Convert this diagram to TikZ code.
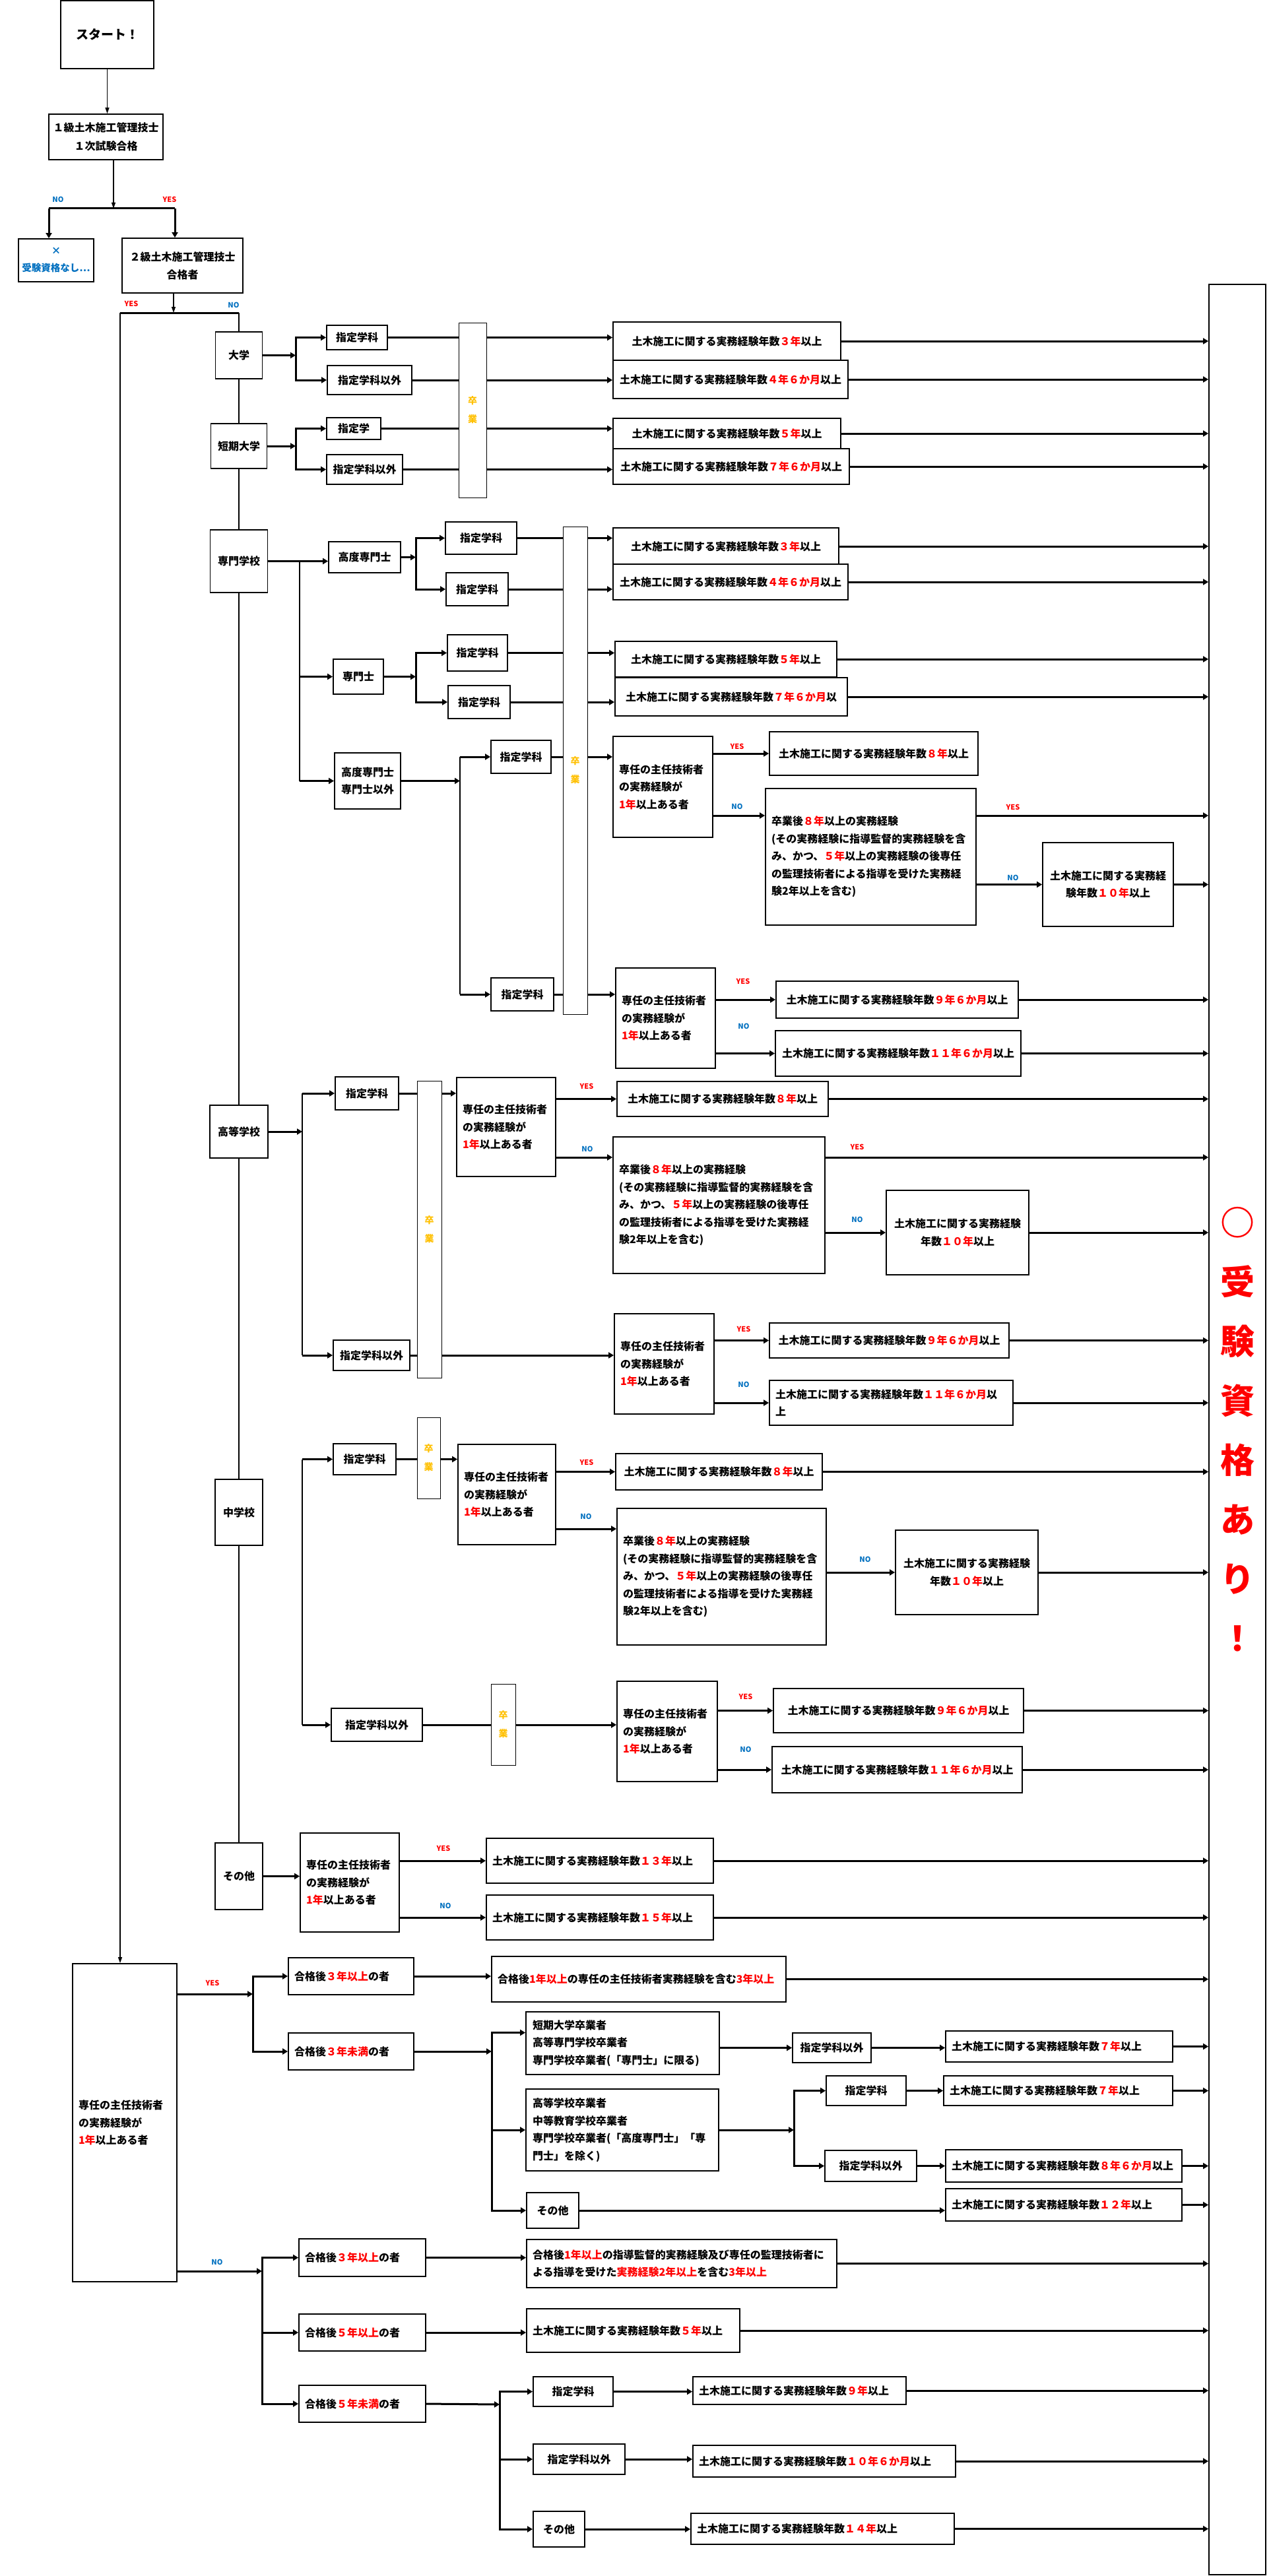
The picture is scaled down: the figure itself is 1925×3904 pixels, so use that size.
\documentclass[tikz,border=0pt]{standalone}
\usepackage{fontspec}
\setmainfont{Noto Sans CJK JP}
\usetikzlibrary{arrows.meta}

\definecolor{nocol}{RGB}{0,112,192}
\definecolor{gradcol}{RGB}{255,192,0}
\newcommand{\rd}[1]{\textcolor{red}{#1}}
\newcommand{\jt}{\bfseries\fontsize{16}{26.5}\selectfont}
\newcommand{\dk}{土木施工に関する実務経験年数}
\newcommand{\snbody}{専任の主任技術者\\の実務経験が\\\rd{1年}以上ある者}
\newcommand{\sotsu}{卒業後\rd{８年}以上の実務経験\\(その実務経験に指導監督的実務経験を含\\み、かつ、\rd{５年}以上の実務経験の後専任\\の監理技術者による指導を受けた実務経\\験2年以上を含む)}

\tikzset{
  box/.style={draw,line width=1.8pt,fill=white,inner sep=0pt,align=center,font=\jt},
  lbox/.style={box,align=left,inner xsep=9pt},
  gradbar/.style={draw,line width=1pt,fill=white,inner sep=0pt,align=center,text=gradcol,font=\bfseries\fontsize{14}{28}\selectfont},
  conn/.style={line width=3pt,-{Triangle[length=8pt,width=9pt]}},
  seg/.style={line width=3pt},
  vline/.style={line width=1.2pt},
  vlinearr/.style={line width=1.2pt,-{Triangle[length=9pt,width=6pt]}},
  yeslbl/.style={text=red,font=\bfseries\fontsize{11}{13}\selectfont},
  nolbl/.style={text=nocol,font=\bfseries\fontsize{11}{13}\selectfont}
}

\begin{document}
\begin{tikzpicture}[x=1pt,y=-1pt]
\path[use as bounding box,fill=white] (0,0) rectangle (1925,3904);

% top of the chart
\node[box,minimum width=141pt,minimum height=103pt,font=\bfseries\fontsize{19}{23}\selectfont] (start) at (162.5,52.5) {スタート！};
\node[box,minimum width=173pt,minimum height=69pt,font=\bfseries\fontsize{16}{28}\selectfont] (first) at (160.5,207.5) {１級土木施工管理技士\\１次試験合格};
\node[box,minimum width=114pt,minimum height=65pt,text=nocol,font=\bfseries\fontsize{14.5}{26}\selectfont] (fail) at (85,394.5) {×\\受験資格なし…};
\node[box,minimum width=183pt,minimum height=83pt,font=\bfseries\fontsize{16}{27}\selectfont] (second) at (276.5,402.5) {２級土木施工管理技士\\合格者};
\node[draw,line width=1.8pt,minimum width=86pt,minimum height=3471pt,inner sep=0pt,align=center,text=red,font=\bfseries\fontsize{52}{90}\selectfont] (goal) at (1875,2166.5) {○\\受\\験\\資\\格\\あ\\り\\！};

\coordinate (b1) at (172,316);
\coordinate (b1l) at (74,316);
\coordinate (b1r) at (265,316);
\coordinate (b2) at (263,474);
\coordinate (b2l) at (182,474);
\coordinate (b2r) at (362,474);
\node[nolbl] (lno0) at (88,302) {NO};
\node[yeslbl] (lyes0) at (257,302) {YES};
\node[yeslbl] (lyes1) at (199,460) {YES};
\node[nolbl] (lno1) at (354,462) {NO};

% school column
\node[box,minimum width=71pt,minimum height=71pt] (daigaku) at (362,538.5) {大学};
\node[box,minimum width=85pt,minimum height=68pt] (tanki) at (362,676) {短期大学};
\node[box,minimum width=87pt,minimum height=95pt] (senmon) at (362,850.5) {専門学校};
\node[box,minimum width=88pt,minimum height=80pt] (koutou) at (362,1715) {高等学校};
\node[box,minimum width=72pt,minimum height=100pt] (chuu) at (362,2292) {中学校};
\node[box,minimum width=72pt,minimum height=101pt] (sonota) at (362,2843.5) {その他};

% daigaku / tanki
\node[box,minimum width=92pt,minimum height=37pt] (dk1) at (541,511.5) {指定学科};
\node[box,minimum width=128pt,minimum height=44pt] (dk2) at (560,576) {指定学科以外};
\node[box,minimum width=82pt,minimum height=33pt] (tk1) at (536,649.5) {指定学};
\node[box,minimum width=115pt,minimum height=45pt] (tk2) at (552.5,711.5) {指定学科以外};
\node[gradbar,minimum width=42pt,minimum height=265pt] (grad1) at (716,621.5) {卒\\業};
\node[box,minimum width=345pt,minimum height=58pt] (r1) at (1101.5,517) {\dk\rd{３年}以上};
\node[box,minimum width=356pt,minimum height=58pt] (r2) at (1107,575) {\dk\rd{４年６か月}以上};
\node[box,minimum width=345pt,minimum height=46pt] (r3) at (1101.5,657) {\dk\rd{５年}以上};
\node[box,minimum width=358pt,minimum height=54pt] (r4) at (1108,707) {\dk\rd{７年６か月}以上};
\coordinate (dbr) at (448,538.5);
\coordinate (tbr) at (448,676);

% senmon gakkou
\node[box,minimum width=109pt,minimum height=47pt] (kd) at (552.5,844.5) {高度専門士};
\node[box,minimum width=76pt,minimum height=53pt] (sm) at (543,1025.5) {専門士};
\node[box,minimum width=100pt,minimum height=85pt] (kg) at (557,1183.5) {高度専門士\\専門士以外};
\node[box,minimum width=108pt,minimum height=49pt] (sk1) at (729,815.5) {指定学科};
\node[box,minimum width=94pt,minimum height=50pt] (sk2) at (723,893) {指定学科};
\node[box,minimum width=91pt,minimum height=55pt] (sk3) at (723.5,989.5) {指定学科};
\node[box,minimum width=94pt,minimum height=50pt] (sk4) at (726,1064) {指定学科};
\node[box,minimum width=91pt,minimum height=50pt] (sk5) at (789.5,1147) {指定学科};
\node[box,minimum width=95pt,minimum height=50pt] (sk6) at (791.5,1507) {指定学科};
\node[gradbar,minimum width=37pt,minimum height=739pt] (grad2) at (871.5,1167.5) {卒\\業};
\node[box,minimum width=342pt,minimum height=56pt] (r5) at (1100,828) {\dk\rd{３年}以上};
\node[box,minimum width=356pt,minimum height=54pt] (r6) at (1107,882) {\dk\rd{４年６か月}以上};
\node[box,minimum width=336pt,minimum height=54pt] (r7) at (1100,999) {\dk\rd{５年}以上};
\node[box,minimum width=352pt,minimum height=58pt] (r8) at (1108,1056) {\dk\rd{７年６か月}以};
\node[lbox,text width=133pt,minimum height=153pt] (sn1) at (1004.5,1192.5) {\snbody};
\node[box,minimum width=316pt,minimum height=66pt] (r9) at (1324,1142) {\dk\rd{８年}以上};
\node[lbox,text width=301pt,minimum height=207pt] (lg1) at (1319.5,1298.5) {\sotsu};
\node[box,minimum width=198pt,minimum height=127pt] (r10) at (1679,1340.5) {土木施工に関する実務経\\験年数\rd{１０年}以上};
\node[lbox,text width=133pt,minimum height=152pt] (sn2) at (1008.5,1543) {\snbody};
\node[box,minimum width=367pt,minimum height=56pt] (r11) at (1359.5,1515) {\dk\rd{９年６か月}以上};
\node[box,minimum width=372pt,minimum height=69pt] (r12) at (1361,1596.5) {\dk\rd{１１年６か月}以上};
\coordinate (sbr) at (454,850.5);
\coordinate (kbr) at (630,844.5);
\coordinate (mbr) at (630,1025.5);
\coordinate (gbr) at (697,1183.5);
\coordinate (y1) at (0,1236);
\node[yeslbl] (lyes2) at (1117,1131) {YES};
\node[nolbl] (lno2) at (1117,1222) {NO};
\node[yeslbl] (lyes3) at (1535,1223) {YES};
\node[nolbl] (lno3) at (1535,1330) {NO};
\node[yeslbl] (lyes4) at (1126,1487) {YES};
\node[nolbl] (lno4) at (1127,1555) {NO};

% koutou gakkou
\node[box,minimum width=96pt,minimum height=50pt] (kk1) at (556,1657) {指定学科};
\node[box,minimum width=116pt,minimum height=46pt] (kk2) at (563,2054) {指定学科以外};
\node[gradbar,minimum width=37pt,minimum height=450pt] (grad3) at (650.5,1863) {卒\\業};
\node[lbox,text width=132pt,minimum height=150pt] (sn3) at (767,1708) {\snbody};
\node[box,minimum width=320pt,minimum height=53pt] (r13) at (1095,1665.5) {\dk\rd{８年}以上};
\node[lbox,text width=303pt,minimum height=207pt] (lg2) at (1089.5,1826.5) {\sotsu};
\node[box,minimum width=216pt,minimum height=128pt] (r14) at (1451,1868) {土木施工に関する実務経験\\年数\rd{１０年}以上};
\node[lbox,text width=133pt,minimum height=152pt] (sn4) at (1006.5,2067) {\snbody};
\node[box,minimum width=363pt,minimum height=53pt] (r15) at (1347.5,2031.5) {\dk\rd{９年６か月}以上};
\node[lbox,text width=351pt,minimum height=68pt] (r16) at (1350.5,2126) {\dk\rd{１１年６か月}以\\上};
\coordinate (kobr) at (458,1715);
\coordinate (y2) at (0,1754);
\node[yeslbl] (lyes5) at (889,1646) {YES};
\node[nolbl] (lno5) at (890,1741) {NO};
\node[yeslbl] (lyes6) at (1299,1738) {YES};
\node[nolbl] (lno6) at (1299,1848) {NO};
\node[yeslbl] (lyes7) at (1127,2014) {YES};
\node[nolbl] (lno7) at (1127,2098) {NO};

% chuugakkou
\node[box,minimum width=95pt,minimum height=47pt] (ck1) at (552.5,2211.5) {指定学科};
\node[gradbar,minimum width=35pt,minimum height=123pt] (grad4) at (649.5,2209.5) {卒\\業};
\node[lbox,text width=130pt,minimum height=152pt] (sn5) at (768,2265) {\snbody};
\node[box,minimum width=313pt,minimum height=55pt] (r17) at (1089.5,2230.5) {\dk\rd{８年}以上};
\node[lbox,text width=299pt,minimum height=207pt] (lg3) at (1093.5,2389.5) {\sotsu};
\node[box,minimum width=216pt,minimum height=128pt] (r18) at (1465,2383) {土木施工に関する実務経験\\年数\rd{１０年}以上};
\node[box,minimum width=138pt,minimum height=50pt] (ck2) at (571,2614) {指定学科以外};
\node[gradbar,minimum width=37pt,minimum height=123pt] (grad5) at (762.5,2613.5) {卒\\業};
\node[lbox,text width=134pt,minimum height=152pt] (sn6) at (1011,2624) {\snbody};
\node[box,minimum width=379pt,minimum height=67pt] (r19) at (1361.5,2592.5) {\dk\rd{９年６か月}以上};
\node[box,minimum width=379pt,minimum height=70pt] (r20) at (1359.5,2682) {\dk\rd{１１年６か月}以上};
\coordinate (cbr) at (458,2412);
\coordinate (y3) at (0,2317);
\node[yeslbl] (lyes8) at (889,2216) {YES};
\node[nolbl] (lno8) at (888,2298) {NO};
\node[nolbl] (lno9) at (1311,2363) {NO};
\node[yeslbl] (lyes9) at (1130,2571) {YES};
\node[nolbl] (lno10) at (1130,2651) {NO};

% sonota
\node[lbox,text width=132pt,minimum height=150pt] (sn7) at (530,2853) {\snbody};
\node[lbox,text width=326pt,minimum height=68pt] (r21) at (909,2820) {\dk\rd{１３年}以上};
\node[lbox,text width=326pt,minimum height=68pt] (r22) at (909,2906) {\dk\rd{１５年}以上};
\node[yeslbl] (lyes10) at (672,2801) {YES};
\node[nolbl] (lno11) at (675,2888) {NO};

% 2-kyuu goukakusha
\node[lbox,text width=140pt,minimum height=482pt] (snA) at (189,3217) {\snbody};
\node[lbox,text width=172pt,minimum height=56pt] (p1) at (532,2995) {合格後\rd{３年以上}の者};
\node[lbox,text width=428pt,minimum height=69pt] (q1) at (968,2999.5) {合格後\rd{1年以上}の専任の主任技術者実務経験を含む\rd{3年以上}};
\node[lbox,text width=172pt,minimum height=56pt] (p2) at (532,3109) {合格後\rd{３年未満}の者};
\node[lbox,text width=273pt,minimum height=95pt,inner xsep=10pt] (e1) at (943.5,3096.5) {短期大学卒業者\\高等専門学校卒業者\\専門学校卒業者(「専門士」に限る)};
\node[lbox,text width=272pt,minimum height=124pt,inner xsep=10pt] (e2) at (943,3228) {高等学校卒業者\\中等教育学校卒業者\\専門学校卒業者(「高度専門士」「専\\門士」を除く)};
\node[box,minimum width=79pt,minimum height=54pt] (e3) at (837.5,3350) {その他};
\node[box,minimum width=119pt,minimum height=45pt] (f1) at (1260.5,3103.5) {指定学科以外};
\node[box,minimum width=121pt,minimum height=45pt] (f2) at (1312.5,3168.5) {指定学科};
\node[box,minimum width=139pt,minimum height=47pt] (f3) at (1319.5,3282.5) {指定学科以外};
\node[lbox,text width=326pt,minimum height=47pt] (g1) at (1605,3101.5) {\dk\rd{７年}以上};
\node[lbox,text width=329pt,minimum height=45pt] (g2) at (1603.5,3168.5) {\dk\rd{７年}以上};
\node[lbox,text width=340pt,minimum height=49pt] (g3) at (1612,3282.5) {\dk\rd{８年６か月}以上};
\node[lbox,text width=340pt,minimum height=49pt] (g4) at (1612,3341.5) {\dk\rd{１２年}以上};
\node[lbox,text width=174pt,minimum height=57pt] (h1) at (549,3421.5) {合格後\rd{３年以上}の者};
\node[lbox,text width=452pt,minimum height=73pt] (i1) at (1033,3430.5) {合格後\rd{1年以上}の指導監督的実務経験及び専任の監理技術者に\\よる指導を受けた\rd{実務経験2年以上}を含む\rd{3年以上}};
\node[lbox,text width=174pt,minimum height=56pt] (h2) at (549,3535) {合格後\rd{５年以上}の者};
\node[lbox,text width=305pt,minimum height=66pt] (j1) at (959.5,3532) {\dk\rd{５年}以上};
\node[lbox,text width=174pt,minimum height=56pt] (h3) at (549,3643) {合格後\rd{５年未満}の者};
\node[box,minimum width=121pt,minimum height=45pt] (k1) at (868.5,3624.5) {指定学科};
\node[box,minimum width=139pt,minimum height=46pt] (k2) at (877.5,3727) {指定学科以外};
\node[box,minimum width=78pt,minimum height=54pt] (k3) at (847,3833) {その他};
\node[lbox,text width=305pt,minimum height=42pt] (m1) at (1211.5,3623) {\dk\rd{９年}以上};
\node[lbox,text width=380pt,minimum height=48pt] (m2) at (1249,3730) {\dk\rd{１０年６か月}以上};
\node[lbox,text width=381pt,minimum height=47pt] (m3) at (1246.5,3832.5) {\dk\rd{１４年}以上};
\coordinate (ay) at (383,3022);
\coordinate (an) at (397,3442);
\coordinate (pbr) at (745,3109);
\coordinate (ebr) at (1203,3228);
\coordinate (hbr) at (757,3644);
\node[yeslbl] (lyes11) at (322,3005) {YES};
\node[nolbl] (lno12) at (329,3428) {NO};

% connectors: top
\draw[vlinearr] (start.south) -- (start.south |- first.north);
\draw[vlinearr] (first.south -| b1) -- (b1);
\draw[seg] (b1l) -- (b1r);
\draw[conn] (b1l) -- (b1l |- fail.north);
\draw[conn] (b1r) -- (b1r |- second.north);
\draw[vlinearr] (second.south -| b2) -- (b2);
\draw[seg] (b2l) -- (b2r);
\draw[vlinearr] (b2l) -- (b2l |- snA.north);
\draw[vline] (b2r) -- (daigaku.north);
\draw[vline] (daigaku.south) -- (tanki.north);
\draw[vline] (tanki.south) -- (senmon.north);
\draw[vline] (senmon.south) -- (koutou.north);
\draw[vline] (koutou.south) -- (chuu.north);
\draw[vline] (chuu.south) -- (sonota.north);

% connectors: daigaku / tanki
\draw[conn] (daigaku.east) -- (dbr);
\draw[conn] (dbr) |- (dk1.west);
\draw[conn] (dbr) |- (dk2.west);
\draw[conn] (tanki.east) -- (tbr);
\draw[conn] (tbr) |- (tk1.west);
\draw[conn] (tbr) |- (tk2.west);
\foreach \s/\r in {dk1/r1,dk2/r2,tk1/r3,tk2/r4}{
  \draw[seg] (\s.east) -- (\s.east -| grad1.west);
  \draw[conn] (\s.east -| grad1.east) -- (\s.east -| \r.west);
}

% connectors: senmon gakkou
\draw[conn] (senmon.east) -- (senmon.east -| kd.west);
\draw[vline] (sbr) -- (sbr |- kg.west);
\draw[conn] (sbr |- sm.west) -- (sm.west);
\draw[conn] (sbr |- kg.west) -- (kg.west);
\draw[conn] (kd.east) -- (kbr);
\draw[conn] (kbr) |- (sk1.west);
\draw[conn] (kbr) |- (sk2.west);
\draw[conn] (sm.east) -- (mbr);
\draw[conn] (mbr) |- (sk3.west);
\draw[conn] (mbr) |- (sk4.west);
\draw[conn] (kg.east) -- (gbr);
\draw[vline] (gbr |- sk5.west) -- (gbr |- sk6.west);
\draw[conn] (gbr |- sk5.west) -- (sk5.west);
\draw[conn] (gbr |- sk6.west) -- (sk6.west);
\foreach \s/\r in {sk1/r5,sk2/r6,sk3/r7,sk4/r8,sk5/sn1,sk6/sn2}{
  \draw[seg] (\s.east) -- (\s.east -| grad2.west);
  \draw[conn] (\s.east -| grad2.east) -- (\s.east -| \r.west);
}
\draw[conn] (r9.west -| sn1.east) -- (r9.west);
\draw[conn] (sn1.east |- y1) -- (lg1.west |- y1);
\draw[conn] (lg1.east |- y1) -- (goal.west |- y1);
\draw[conn] (r10.west -| lg1.east) -- (r10.west);
\draw[conn] (r11.west -| sn2.east) -- (r11.west);
\draw[conn] (r12.west -| sn2.east) -- (r12.west);

% connectors: koutou gakkou
\draw[conn] (koutou.east) -- (kobr);
\draw[vline] (kobr |- kk1.west) -- (kobr |- kk2.west);
\draw[conn] (kobr |- kk1.west) -- (kk1.west);
\draw[conn] (kobr |- kk2.west) -- (kk2.west);
\foreach \s/\r in {kk1/sn3,kk2/sn4}{
  \draw[seg] (\s.east) -- (\s.east -| grad3.west);
  \draw[conn] (\s.east -| grad3.east) -- (\s.east -| \r.west);
}
\draw[conn] (r13.west -| sn3.east) -- (r13.west);
\draw[conn] (sn3.east |- y2) -- (lg2.west |- y2);
\draw[conn] (lg2.east |- y2) -- (goal.west |- y2);
\draw[conn] (r14.west -| lg2.east) -- (r14.west);
\draw[conn] (r15.west -| sn4.east) -- (r15.west);
\draw[conn] (r16.west -| sn4.east) -- (r16.west);

% connectors: chuugakkou
\draw[vline] (cbr |- ck1.west) -- (cbr |- ck2.west);
\draw[conn] (cbr |- ck1.west) -- (ck1.west);
\draw[conn] (cbr |- ck2.west) -- (ck2.west);
\draw[seg] (ck1.east) -- (ck1.east -| grad4.west);
\draw[conn] (ck1.east -| grad4.east) -- (ck1.east -| sn5.west);
\draw[seg] (ck2.east) -- (ck2.east -| grad5.west);
\draw[conn] (ck2.east -| grad5.east) -- (ck2.east -| sn6.west);
\draw[conn] (r17.west -| sn5.east) -- (r17.west);
\draw[conn] (sn5.east |- y3) -- (lg3.west |- y3);
\draw[conn] (r18.west -| lg3.east) -- (r18.west);
\draw[conn] (r19.west -| sn6.east) -- (r19.west);
\draw[conn] (r20.west -| sn6.east) -- (r20.west);

% connectors: sonota
\draw[conn] (sonota.east) -- (sonota.east -| sn7.west);
\draw[conn] (r21.west -| sn7.east) -- (r21.west);
\draw[conn] (r22.west -| sn7.east) -- (r22.west);

% connectors: 2-kyuu goukakusha
\draw[conn] (snA.east |- ay) -- (ay);
\draw[conn] (ay) |- (p1.west);
\draw[conn] (ay) |- (p2.west);
\draw[conn] (p1.east) -- (p1.east -| q1.west);
\draw[conn] (p2.east) -- (pbr);
\draw[conn] (pbr) |- ([yshift=16pt]e1.west);
\draw[conn] (pbr) |- (e2.west);
\draw[conn] (pbr) |- (e3.west);
\draw[conn] (e1.east |- f1.west) -- (f1.west);
\draw[conn] (f1.east) -- (f1.east -| g1.west);
\draw[conn] (e2.east) -- (ebr);
\draw[conn] (ebr) |- (f2.west);
\draw[conn] (ebr) |- (f3.west);
\draw[conn] (f2.east) -- (g2.west);
\draw[conn] (f3.east) -- (g3.west);
\draw[conn] (e3.east) -- (e3.east -| g4.west);
\draw[conn] (snA.east |- an) -- (an);
\draw[conn] (an) |- (h1.west);
\draw[conn] (an) |- (h2.west);
\draw[conn] (an) |- (h3.west);
\draw[conn] (h1.east) -- (h1.east -| i1.west);
\draw[conn] (h2.east) -- (h2.east -| j1.west);
\draw[conn] (h3.east) -- (hbr);
\draw[conn] (hbr) |- (k1.west);
\draw[conn] (hbr) |- (k2.west);
\draw[conn] (hbr) |- (k3.west);
\draw[conn] (k1.east) -- (k1.east -| m1.west);
\draw[conn] (k2.east) -- (k2.east -| m2.west);
\draw[conn] (k3.east) -- (k3.east -| m3.west);

% into the goal
\foreach \r in {r1,r2,r3,r4,r5,r6,r7,r8,r10,r11,r12,r13,r14,r15,r16,r17,r18,r19,r20,r21,r22,q1,g1,g2,g3,g4,i1,j1,m1,m2,m3}{
  \draw[conn] (\r.east) -- (\r.east -| goal.west);
}

\end{tikzpicture}
\end{document}
